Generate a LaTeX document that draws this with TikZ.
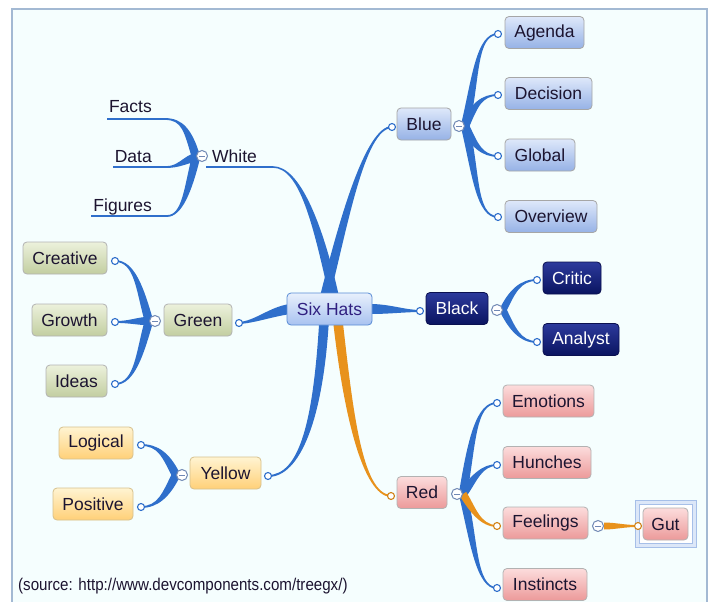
\documentclass[tikz,border=0pt]{standalone}
\usepackage{fontspec}
\setmainfont{Liberation Sans}
\usetikzlibrary{calc}
\definecolor{bgc}{HTML}{F5FEFE}
\definecolor{framec}{HTML}{A3B9D3}
\definecolor{linkblue}{HTML}{2F6FCB}
\definecolor{linkorange}{HTML}{E8921C}
\definecolor{collc}{HTML}{7088B4}
\definecolor{txt}{HTML}{1C1430}
\definecolor{selc}{HTML}{A6BFE8}
\definecolor{selfill}{HTML}{DCE7F8}
\pgfdeclarelayer{back}\pgfdeclarelayer{links}
\pgfsetlayers{back,links,main}
\newcommand\taper[7][linkblue]{%
  \fill[#1] ($(#2)!#6!90:(#3)$) .. controls ($(#3)!#6!-90:(#2)$) and ($(#4)!#7!90:(#5)$) .. ($(#5)!#7!-90:(#4)$)
    -- ($(#5)!#7!90:(#4)$) .. controls ($(#4)!#7!-90:(#5)$) and ($(#3)!#6!90:(#2)$) .. ($(#2)!#6!-90:(#3)$) -- cycle;}
\begin{document}
\begin{tikzpicture}[x=1pt,y=-1pt,
  lbl/.style={font=\fontsize{17.5}{20}\selectfont, text=txt},
  box/.style={lbl, rounded corners=4pt, line width=0.8pt, minimum height=32pt, inner xsep=2pt, inner ysep=0pt},
  sixhat/.style={box, draw=linkblue!80, top color={rgb,255:red,232;green,240;blue,252}, bottom color={rgb,255:red,168;green,194;blue,240}, text={rgb,255:red,48;green,32;blue,128}},
  bluebox/.style={box, draw=gray!70, top color={rgb,255:red,222;green,232;blue,250}, bottom color={rgb,255:red,150;green,178;blue,230}},
  blackbox/.style={box, draw={rgb,255:red,10;green,16;blue,80}, top color={rgb,255:red,44;green,58;blue,156}, bottom color={rgb,255:red,10;green,20;blue,96}, text=white},
  redbox/.style={box, draw=gray!60, top color={rgb,255:red,252;green,220;blue,220}, bottom color={rgb,255:red,236;green,154;blue,154}},
  greenbox/.style={box, draw=gray!60, top color={rgb,255:red,236;green,241;blue,220}, bottom color={rgb,255:red,194;green,206;blue,160}},
  yellowbox/.style={box, draw={rgb,255:red,214;green,192;blue,140}, top color={rgb,255:red,255;green,244;blue,210}, bottom color={rgb,255:red,255;green,208;blue,120}},
  plain/.style={lbl, inner sep=0pt},
  dot/.style={circle, draw=linkblue, fill=white, line width=1.1pt, inner sep=0pt, minimum size=7pt},
  odot/.style={dot, draw=linkorange!90!black},
  coll/.style={circle, draw=collc, fill=white, line width=1pt, inner sep=0pt, minimum size=11pt,
    path picture={\draw[collc, line width=0.9pt] ([xshift=-3pt]path picture bounding box.center) -- ([xshift=3pt]path picture bounding box.center);}},
  uline/.style={linkblue, line width=1.3pt}
]
\useasboundingbox (0,0) rectangle (713,602);
\begin{pgfonlayer}{back}
  \fill[white] (0,0) rectangle (713,602);
  \draw[fill=bgc, draw=framec, line width=1.5pt] (12,9) rectangle (707,612);
\end{pgfonlayer}

% central and main nodes
\node[sixhat, minimum width=85pt] (six) at (329.5,309) {Six Hats};
\node[bluebox, minimum width=54pt] (blue) at (424,124) {Blue};
\node[bluebox, minimum width=79pt] (agenda) at (544.5,32.5) {Agenda};
\node[bluebox, minimum width=87pt] (decision) at (548.5,93.5) {Decision};
\node[bluebox, minimum width=70pt] (global) at (540,155) {Global};
\node[bluebox, minimum width=92pt] (overview) at (551,216.5) {Overview};
\node[blackbox, minimum width=62pt] (black) at (457,308.5) {Black};
\node[blackbox, minimum width=58pt] (critic) at (572,278) {Critic};
\node[blackbox, minimum width=76pt] (analyst) at (581,339.5) {Analyst};
\node[redbox, minimum width=91pt] (emotions) at (548.5,401) {Emotions};
\node[redbox, minimum width=88pt] (hunches) at (547,462.5) {Hunches};
\node[redbox, minimum width=50pt] (red) at (422,492.5) {Red};
\node[redbox, minimum width=85pt] (feelings) at (545.5,523) {Feelings};
\node[draw=selc, double=selfill, double distance=2.5pt, line width=1.2pt, fill=white, minimum width=57pt, minimum height=43pt, inner sep=0pt] (gutsel) at (666,524) {};
\node[redbox, minimum width=45pt] (gut) at (665.5,524) {Gut};
\node[redbox, minimum width=84pt] (instincts) at (545,584.5) {Instincts};
\node[greenbox, minimum width=84pt] (creative) at (65,258) {Creative};
\node[greenbox, minimum width=75pt] (growth) at (69.5,320) {Growth};
\node[greenbox, minimum width=61pt] (ideas) at (76.5,381) {Ideas};
\node[greenbox, minimum width=68pt] (green) at (198,320) {Green};
\node[yellowbox, minimum width=74pt] (logical) at (96,443) {Logical};
\node[yellowbox, minimum width=80pt] (positive) at (93,504) {Positive};
\node[yellowbox, minimum width=71pt] (yellow) at (225.5,473) {Yellow};

% white branch texts
\node[plain, anchor=base east] (facts) at (152,113) {Facts};
\node[plain, anchor=base east] (data) at (152,162) {Data};
\node[plain, anchor=base east] (figures) at (152,211) {Figures};
\node[plain, anchor=base west] (white) at (212,162) {White};

% connection dots
\node[dot] (blueIn) at (392,127) {};
\node[dot] (agendaDot) at (498,34) {};
\node[dot] (decisionDot) at (498,95) {};
\node[dot] (globalDot) at (498,156) {};
\node[dot] (overviewDot) at (498,217) {};
\node[dot] (blackIn) at (420,311) {};
\node[dot] (criticDot) at (537,280) {};
\node[dot] (analystDot) at (537,342) {};
\node[odot] (redIn) at (391,496) {};
\node[dot] (emotionsDot) at (497,403) {};
\node[dot] (hunchesDot) at (497,465) {};
\node[odot] (feelingsDot) at (497,526) {};
\node[dot] (instinctsDot) at (497,588) {};
\node[odot] (gutIn) at (638,526) {};
\node[dot] (greenOut) at (239,323) {};
\node[dot] (creativeDot) at (115,261) {};
\node[dot] (growthDot) at (115,322) {};
\node[dot] (ideasDot) at (115,384) {};
\node[dot] (yellowOut) at (268,476) {};
\node[dot] (logicalDot) at (141,445) {};
\node[dot] (positiveDot) at (141,507) {};

% collapse markers
\node[coll] (blueC) at (459,126) {};
\node[coll] (blackC) at (497,310) {};
\node[coll] (redC) at (457,494) {};
\node[coll] (feelingsC) at (598,526) {};
\node[coll] (greenC) at (155,321) {};
\node[coll] (yellowC) at (182,475) {};
\node[coll] (whiteC) at (202,156) {};

% named connector ends
\coordinate (factsL) at (107,119);   \coordinate (factsEnd) at (165,119);
\coordinate (dataL) at (113,167);    \coordinate (dataEnd) at (167,167);
\coordinate (figuresL) at (91,216);  \coordinate (figuresEnd) at (167,216);
\coordinate (whiteL) at (206,167);   \coordinate (whiteEnd) at (273,167);
\coordinate (blueRoot) at (465,126);
\coordinate (blackRoot) at (503,310);
\coordinate (redRoot) at (463,494);
\coordinate (feelingsRoot) at (604,526);
\coordinate (greenRoot) at (149,321);
\coordinate (yellowRoot) at (176,475);
\coordinate (whiteRoot) at (196,157);
\coordinate (sixTL) at (325,296);
\coordinate (sixTR) at (334,296);
\coordinate (sixW) at (290,309);
\coordinate (sixE) at (370,309);
\coordinate (sixBL) at (324,322);
\coordinate (sixBR) at (338,322);

\begin{pgfonlayer}{links}
  % underlines of the White branch
  \draw[uline] (factsL) -- (factsEnd);
  \draw[uline] (dataL) -- (dataEnd);
  \draw[uline] (figuresL) -- (figuresEnd);
  \draw[uline] (whiteL) -- (whiteEnd);
  % main branches
  \taper{sixTR}{318,225}{300,167}{whiteEnd}{4.8pt}{0.8pt}
  \taper{sixTL}{343,225}{365,127}{blueIn}{4.8pt}{1pt}
  \taper{sixW}{270,312}{255,322}{greenOut}{5pt}{1pt}
  \taper{sixE}{390,309}{405,311}{blackIn}{5pt}{1pt}
  \taper{sixBL}{318,420}{300,476}{yellowOut}{4.8pt}{1pt}
  \taper[linkorange]{sixBR}{348,410}{362,495}{redIn}{4.8pt}{1pt}
  % blue
  \taper{blueRoot}{476,80}{476,34}{agendaDot}{4.2pt}{0.9pt}
  \taper{blueRoot}{474,105}{482,95}{decisionDot}{4.2pt}{0.9pt}
  \taper{blueRoot}{474,145}{482,156}{globalDot}{4.2pt}{0.9pt}
  \taper{blueRoot}{476,172}{476,217}{overviewDot}{4.2pt}{0.9pt}
  % black
  \taper{blackRoot}{512,292}{520,280}{criticDot}{3.5pt}{0.9pt}
  \taper{blackRoot}{512,328}{520,342}{analystDot}{3.5pt}{0.9pt}
  % red
  \taper{redRoot}{472,440}{476,403}{emotionsDot}{4.2pt}{0.9pt}
  \taper{redRoot}{474,478}{482,465}{hunchesDot}{4.2pt}{0.9pt}
  \taper{redRoot}{474,540}{476,588}{instinctsDot}{4.2pt}{0.9pt}
  \taper[linkorange]{redRoot}{472,508}{480,526}{feelingsDot}{3.8pt}{0.9pt}
  \taper[linkorange]{feelingsRoot}{615,526}{625,526}{gutIn}{3.5pt}{0.9pt}
  % green
  \taper{greenRoot}{140,290}{135,261}{creativeDot}{4.2pt}{0.9pt}
  \taper{greenRoot}{138,321}{130,322}{growthDot}{4.2pt}{0.9pt}
  \taper{greenRoot}{140,352}{135,384}{ideasDot}{4.2pt}{0.9pt}
  % yellow
  \taper{yellowRoot}{166,455}{158,445}{logicalDot}{4.2pt}{0.9pt}
  \taper{yellowRoot}{166,495}{158,507}{positiveDot}{4.2pt}{0.9pt}
  % white
  \taper{whiteRoot}{188,130}{182,119}{factsEnd}{4.2pt}{0.9pt}
  \taper{whiteRoot}{185,160}{178,167}{dataEnd}{4.2pt}{0.9pt}
  \taper{whiteRoot}{188,190}{182,216}{figuresEnd}{4.2pt}{0.9pt}
\end{pgfonlayer}

\node[anchor=base west, inner sep=0pt, font=\fontsize{17}{20}\selectfont, text=txt] (src) at (18,590) {\scalebox{0.89}[1]{(source: http://www.devcomponents.com/treegx/)}};
\end{tikzpicture}
\end{document}
